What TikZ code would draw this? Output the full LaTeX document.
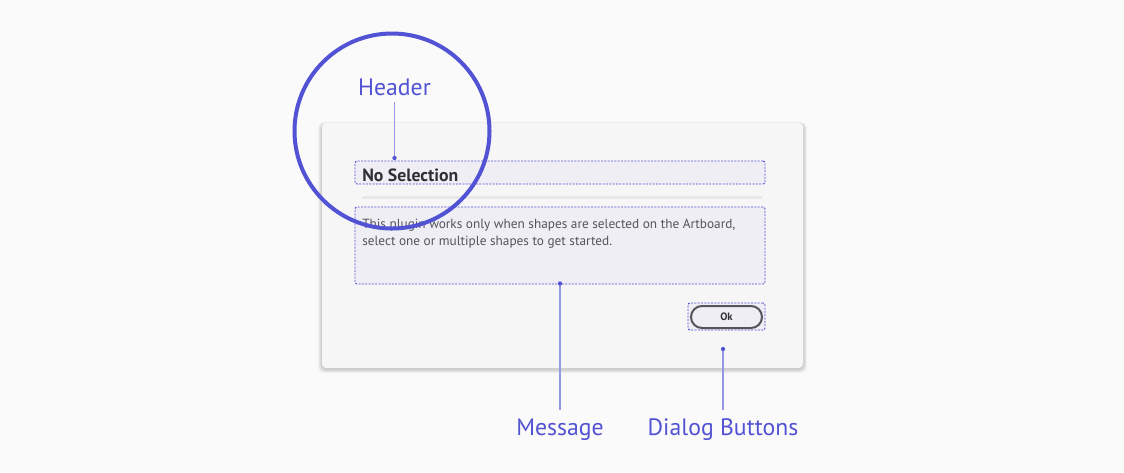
\documentclass[tikz,border=0pt]{standalone}
\usepackage{fontspec}
\setmainfont{PT Sans}

\definecolor{bgcol}{RGB}{250,250,250}
\definecolor{cardfill}{RGB}{246,246,247}
\definecolor{boxfill}{RGB}{238,238,244}
\definecolor{accent}{RGB}{82,82,212}
\definecolor{leadcol}{RGB}{150,150,232}
\definecolor{textdark}{RGB}{48,48,52}
\definecolor{textgray}{RGB}{84,84,90}
\definecolor{sepcol}{RGB}{232,232,234}

\begin{document}
\begin{tikzpicture}[x=0.75pt, y=-0.75pt,
  card/.style={fill=cardfill, rounded corners=3pt, inner sep=0},
  cardshade/.style={fill=black, opacity=0.022, rounded corners=4pt},
  field/.style={draw=accent, dash pattern=on 1.5pt off 1pt, line width=0.7pt, fill=boxfill,
    rounded corners=1.5pt, minimum width=307.5pt, inner sep=0},
  okbutton/.style={draw=textgray, line width=1.5pt, fill=boxfill, rounded corners=8.25pt,
    minimum width=53.25pt, minimum height=16.5pt, inner sep=0, text=textdark,
    font=\bfseries\fontsize{8}{9}\selectfont},
  callout/.style={text=accent, inner sep=1pt, text height=12.5pt, text depth=4pt,
    font=\fontsize{17.8}{20}\selectfont},
  leader/.style={draw=leadcol, line width=1.2pt},
  dot/.style={fill=accent}]

  \useasboundingbox (0,0) rectangle (1124,472);
  \fill[bgcol] (0,0) rectangle (1124,472);

  % Card shadow
  \foreach \s in {0.5,1,...,4}
    \fill[cardshade] (322-\s,124-\s*0.5) rectangle (803+\s,369+\s);

  % Define nodes
  \node[card, minimum width=360.75pt, minimum height=183.75pt] (dialog) at (562.5,245.5) {};
  \node[field, minimum height=17.25pt] (header) at (560,172.5) {};
  \node[anchor=base west, inner sep=0, text=textdark, font=\bfseries\fontsize{13.3}{16}\selectfont] (title) at (362,181) {No Selection};
  \fill[sepcol] (362,196) rectangle (762,198.5);
  \node[field, minimum height=57.75pt] (message) at (560,245.5) {};
  \node[anchor=base west, inner sep=0, text=textgray, font=\fontsize{9.95}{12}\selectfont] (bodyA) at (362,228.3) {This plugin works only when shapes are selected on the Artboard,};
  \node[anchor=base west, inner sep=0, text=textgray, font=\fontsize{9.95}{12}\selectfont] (bodyB) at (362,245) {select one or multiple shapes to get started.};
  \node[field, minimum width=57.75pt, minimum height=20.25pt] (okframe) at (726.5,316.5) {};
  \node[okbutton] (ok) at (726.5,317) {Ok};

  % Focus ring
  \node[circle, draw=accent, line width=3pt, minimum size=146.25pt, inner sep=0] (focus) at (392,131) {};

  % Labels
  \node[callout, anchor=base] (headerlabel) at (394.5,95) {Header};
  \node[callout, anchor=base] (messagelabel) at (560,435) {Message};
  \node[callout, anchor=base] (buttonslabel) at (723,435) {Dialog Buttons};
  \coordinate (headerdot) at (394.5,158);
  \coordinate (messagedot) at (560,283.5);
  \coordinate (buttonsdot) at (723,349);

  % Connect the nodes
  \draw[leader] (headerlabel.south) -- (headerdot);
  \draw[leader, shorten >=5.25pt] (messagedot) -- (messagelabel.north);
  \draw[leader, shorten >=5.25pt] (buttonsdot) -- (buttonslabel.north);
  \foreach \d in {headerdot, messagedot, buttonsdot}
    \fill[dot] (\d) circle (1.6pt);

\end{tikzpicture}
\end{document}
